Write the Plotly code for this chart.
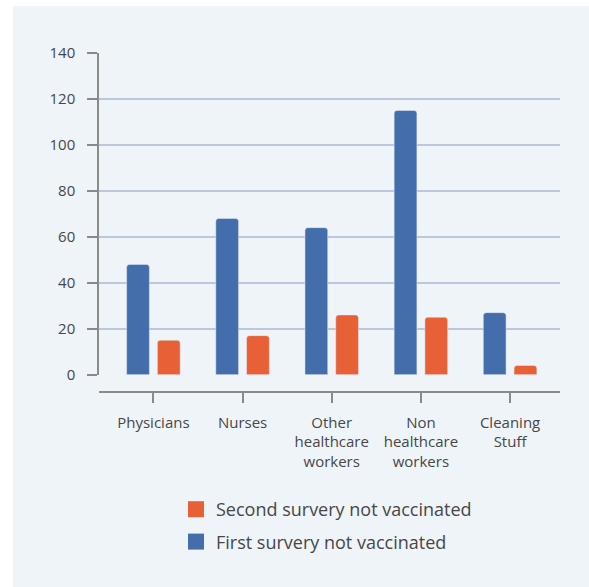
import plotly.graph_objects as go

categories = ["Physicians", "Nurses", "Other<br>healthcare<br>workers",
              "Non<br>healthcare<br>workers", "Cleaning<br>Stuff"]
first_survey = [48, 68, 64, 115, 27]
second_survey = [15, 17, 26, 25, 4]
y_ticks = [0, 20, 40, 60, 80, 100, 120, 140]

BLUE = "#446dab"
ORANGE = "#e86036"
PANEL = "#eff4f9"
GRID = "#bcc7de"
AXIS = "#8a8a8a"
TEXT = "#474747"
FONT = "Open Sans"

fig = go.Figure()
fig.add_trace(go.Bar(x=categories, y=first_survey, marker_color=BLUE,
                     name="First survery not vaccinated", showlegend=False))
fig.add_trace(go.Bar(x=categories, y=second_survey, marker_color=ORANGE,
                     name="Second survery not vaccinated", showlegend=False))
# legend entries
fig.add_trace(go.Scatter(x=[None], y=[None], mode="markers",
                         marker=dict(symbol="square", size=16, color=ORANGE),
                         name="Second survery not vaccinated",
                         legendgroup="a"))
fig.add_trace(go.Scatter(x=[None], y=[None], mode="markers",
                         marker=dict(symbol="square", size=16, color=BLUE),
                         name="First survery not vaccinated",
                         legendgroup="b"))

W, H = 589, 587
L, R, T, B = 99, 29, 53, 195
pw, ph = W - L - R, H - T - B

def px(xp):
    return (xp - L) / pw

def py(yp):
    return (H - B - yp) / ph

fig.update_layout(
    width=W, height=H,
    margin=dict(l=L, r=R, t=T, b=B, pad=0),
    paper_bgcolor="white",
    plot_bgcolor="rgba(0,0,0,0)",
    font=dict(family=FONT, color=TEXT, size=15),
    barmode="group", bargap=0.31, bargroupgap=0.26, barcornerradius=3,
    shapes=[dict(type="rect", xref="paper", yref="paper", layer="below",
                 x0=px(13), x1=px(W + 5), y0=py(H + 5), y1=py(6),
                 fillcolor=PANEL, line=dict(width=0))],
    xaxis=dict(anchor="free", position=0, range=[-0.61, 4.56],
               showline=True, linecolor=AXIS, linewidth=1.5,
               ticks="outside", ticklen=10, tickcolor=AXIS, tickwidth=1.5,
               showgrid=False, tickfont=dict(size=15, color=TEXT),
               ticklabelstandoff=7, fixedrange=True),
    yaxis=dict(domain=[py(374.7), 1], range=[0, 140], tickvals=y_ticks,
               showline=True, linecolor=AXIS, linewidth=1.5,
               ticks="outside", ticklen=10, tickcolor=AXIS, tickwidth=1.5,
               showgrid=True, gridcolor=GRID, gridwidth=1.5,
               zeroline=False, tickfont=dict(size=15, color=TEXT),
               ticklabelstandoff=9),
    legend=dict(x=px(176), y=py(491), xanchor="left", yanchor="top",
                traceorder="grouped", tracegroupgap=6,
                bgcolor="rgba(0,0,0,0)", font=dict(size=18, color=TEXT),
                itemwidth=30),
)

fig.write_html("out.html")
